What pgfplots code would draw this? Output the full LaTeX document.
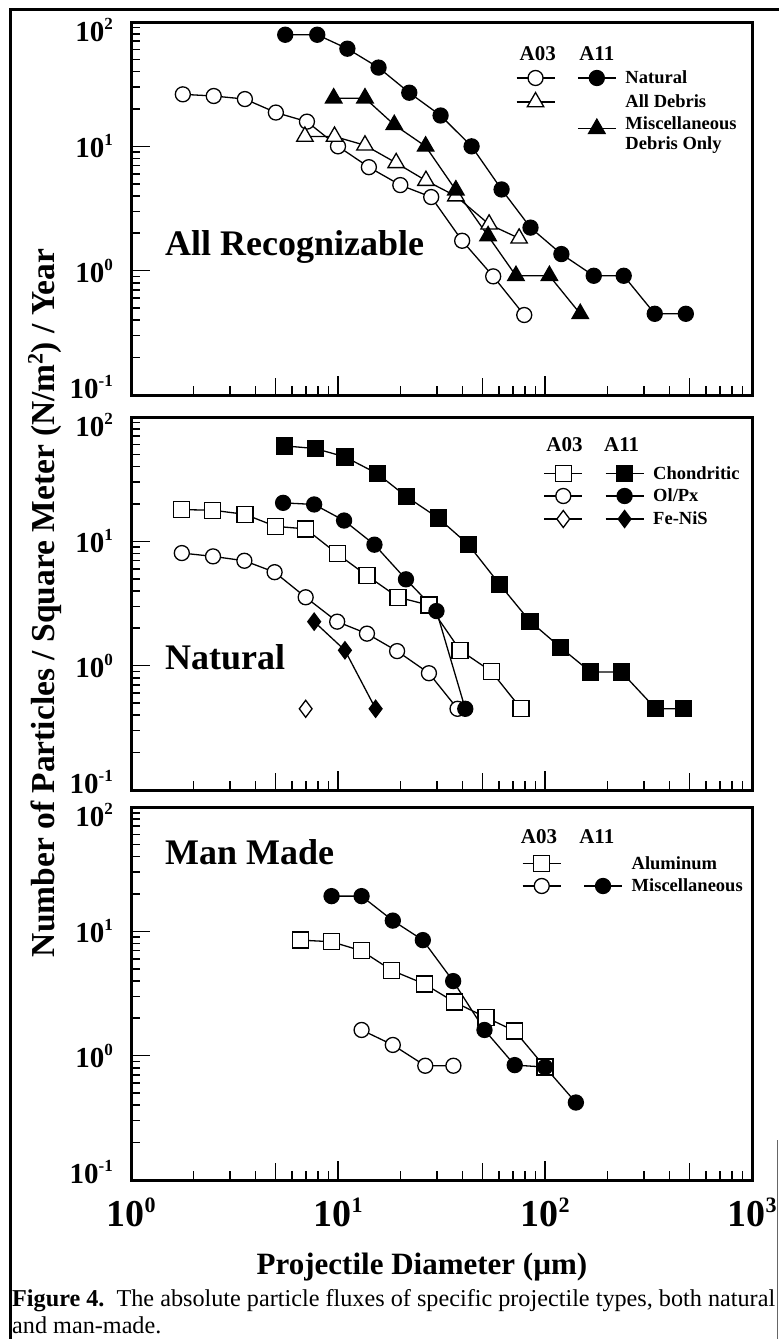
\documentclass[border=0pt]{standalone}
\usepackage{pgfplots}
\pgfplotsset{compat=1.18}
\usepackage{fontspec}
\setmainfont{Liberation Serif}
\newcommand\fs[1]{\fontsize{#1}{#1}\selectfont}
\newcommand\tpy[1]{10\raisebox{12pt}{\fs{17}#1}}
\newcommand\tpx[1]{10\raisebox{14pt}{\fs{22}#1}}
\tikzset{
  mkoc/.style={black, line width=1.3pt, mark=*, mark size=7.5pt, mark options={solid, fill=white, line width=1.3pt}},
  mkfc/.style={black, line width=1.3pt, mark=*, mark size=7.5pt, mark options={solid, fill=black, line width=1.3pt}},
  mkosq/.style={black, line width=1.3pt, mark=square*, mark size=8pt, mark options={solid, fill=white, line width=1.3pt}},
  mkfsq/.style={black, line width=1.3pt, mark=square*, mark size=8pt, mark options={solid, fill=black, line width=1.3pt}},
  mkotri/.style={black, line width=1.3pt, mark=triangle*, mark size=9.5pt, mark options={solid, fill=white, line width=1.3pt}},
  mkftri/.style={black, line width=1.3pt, mark=triangle*, mark size=9.5pt, mark options={solid, fill=black, line width=1.3pt}},
  mkodia/.style={black, line width=1.3pt, mark=diamond*, mark size=8.5pt, mark options={solid, fill=white, line width=1.3pt}},
  mkfdia/.style={black, line width=1.3pt, mark=diamond*, mark size=8.5pt, mark options={solid, fill=black, line width=1.3pt}},
}
\begin{document}
\begin{tikzpicture}
\path[use as bounding box] (0pt,0pt) rectangle (779pt,-1339pt);
\draw[line width=3pt] (10pt,-1339pt) -- (10pt,-9pt) -- (779pt,-9pt);
\draw[line width=0.8pt, black!60] (777pt,-1140pt) -- (777pt,-1339pt);

% ---------------- top panel
\begin{axis}[at={(131pt,-22pt)}, anchor=north west,
    xmode=log, ymode=log, xmin=1, xmax=1000, ymin=0.1, ymax=100,
    scale only axis, width=621pt, height=373pt,
    axis line style={line width=3pt},
    xtick={1,10,100,1000}, ytick={0.1,1,10,100},
    yticklabels={\raisebox{8pt}[\height][\depth]{\tpy{-1}},\tpy{0},\tpy{1},\raisebox{-8pt}[\height][\depth]{\tpy{2}}},
    xticklabels={},
    extra x ticks={5,50,500}, extra x tick labels={},
    extra x tick style={major tick length=17pt},
    tick align=inside, tick pos=left,
    major tick length=19pt, minor tick length=9pt,
    tick style={line width=1.6pt, black},
    yticklabel style={font=\fs{29}\bfseries, inner sep=0pt, xshift=-18pt},
    clip=false,
    legend columns=2, legend cell align=left,
    legend image code/.code={\draw[mark repeat=2, mark phase=2, #1] plot coordinates {(0pt,0pt) (19pt,0pt) (38pt,0pt)};},
    legend style={at={(axis description cs:0.975,0.87)}, draw=none, fill=none, anchor=north east, inner sep=0pt, outer sep=0pt,
      nodes={inner sep=0pt, font=\fs{18.5}\bfseries}, row sep=7pt,
      /tikz/column 2/.style={column sep=21pt}, /tikz/column 3/.style={column sep=9pt}},
  ]
\addplot[mkoc, forget plot] coordinates {(1.78,26.2)(2.51,25.4)(3.55,24.0)(5.01,18.7)(7.08,15.8)(10.0,10.0)(14.1,6.8)(20.0,4.88)(28.2,3.91)(39.8,1.74)(56.2,0.90)(79.4,0.44)};
\addplot[mkotri, forget plot] coordinates {(6.92,12.0)(9.62,12.0)(13.5,10.2)(19.1,7.36)(26.6,5.3)(37.1,3.98)(53.7,2.36)(75.0,1.82)};
\addplot[mkftri, forget plot] coordinates {(9.53,24.4)(13.5,24.4)(18.7,14.9)(26.5,10.0)(37.1,4.44)(53.1,1.9)(72.4,0.91)(105,0.91)(148,0.45)};
\addplot[mkfc, forget plot] coordinates {(5.56,79)(7.94,79)(11.1,61)(15.7,43)(22.1,27)(31.3,17.7)(44.2,10)(61.7,4.5)(85.1,2.22)(120,1.36)(172,0.91)(240,0.91)(339,0.45)(479,0.45)};
\addlegendimage{mkoc}\addlegendentry{}
\addlegendimage{mkfc}\addlegendentry{Natural}
\addlegendimage{mkotri}\addlegendentry{}
\addlegendimage{empty legend}\addlegendentry{All Debris}
\addlegendimage{empty legend}\addlegendentry{}
\addlegendimage{mkftri}\addlegendentry{\begin{tabular}{@{}l@{}}Miscellaneous\\[1.5pt]Debris Only\end{tabular}}
\node[font=\fs{21}\bfseries, inner sep=0pt] at (rel axis cs:0.655,0.915) {A03};
\node[font=\fs{21}\bfseries, inner sep=0pt] at (rel axis cs:0.750,0.915) {A11};
\node[anchor=west, font=\fs{36}\bfseries, inner sep=0pt] at (axis cs:1.46,1.55) {All Recognizable};
\end{axis}

% ---------------- middle panel
\begin{axis}[at={(131pt,-417pt)}, anchor=north west,
    xmode=log, ymode=log, xmin=1, xmax=1000, ymin=0.1, ymax=100,
    scale only axis, width=621pt, height=373pt,
    axis line style={line width=3pt},
    xtick={1,10,100,1000}, ytick={0.1,1,10,100},
    yticklabels={\raisebox{8pt}[\height][\depth]{\tpy{-1}},\tpy{0},\tpy{1},\raisebox{-8pt}[\height][\depth]{\tpy{2}}},
    xticklabels={},
    extra x ticks={5,50,500}, extra x tick labels={},
    extra x tick style={major tick length=17pt},
    tick align=inside, tick pos=left,
    major tick length=19pt, minor tick length=9pt,
    tick style={line width=1.6pt, black},
    yticklabel style={font=\fs{29}\bfseries, inner sep=0pt, xshift=-18pt},
    clip=false,
    legend columns=2, legend cell align=left,
    legend image code/.code={\draw[mark repeat=2, mark phase=2, #1] plot coordinates {(0pt,0pt) (19pt,0pt) (38pt,0pt)};},
    legend style={at={(axis description cs:0.98,0.87)}, draw=none, fill=none, anchor=north east, inner sep=0pt, outer sep=0pt,
      nodes={inner sep=0pt, font=\fs{18.5}\bfseries}, row sep=7pt,
      /tikz/column 2/.style={column sep=21pt}, /tikz/column 3/.style={column sep=9pt}},
  ]
\addplot[mkosq, forget plot] coordinates {(1.76,18.0)(2.48,17.8)(3.55,16.5)(4.99,13.2)(6.98,12.6)(9.91,7.95)(13.8,5.3)(19.5,3.55)(27.5,3.07)(38.9,1.33)(55.0,0.90)(76.7,0.45)};
\addplot[mkoc, forget plot] coordinates {(1.76,8.05)(2.49,7.57)(3.53,6.98)(4.94,5.65)(6.98,3.55)(9.91,2.26)(13.8,1.81)(19.3,1.31)(27.5,0.87)(37.8,0.45)};
\addplot[mkodia, forget plot] coordinates {(6.98,0.45)};
\addplot[mkfsq, forget plot] coordinates {(5.50,58.6)(7.76,55.8)(10.8,47.8)(15.5,35)(21.5,22.8)(30.5,15.4)(42.7,9.4)(60.3,4.52)(84.5,2.28)(119,1.40)(166,0.89)(234,0.89)(343,0.45)(465,0.45)};
\addplot[mkfc, forget plot] coordinates {(5.43,20.4)(7.67,19.8)(10.7,14.7)(15.0,9.4)(21.3,4.95)(29.9,2.75)(41.2,0.45)};
\addplot[mkfdia, forget plot] coordinates {(7.67,2.26)(10.8,1.33)(15.2,0.45)};
\addlegendimage{mkosq}\addlegendentry{}
\addlegendimage{mkfsq}\addlegendentry{Chondritic}
\addlegendimage{mkoc}\addlegendentry{}
\addlegendimage{mkfc}\addlegendentry{Ol/Px}
\addlegendimage{mkodia}\addlegendentry{}
\addlegendimage{mkfdia}\addlegendentry{Fe-NiS}
\node[font=\fs{21}\bfseries, inner sep=0pt] at (rel axis cs:0.698,0.925) {A03};
\node[font=\fs{21}\bfseries, inner sep=0pt] at (rel axis cs:0.790,0.925) {A11};
\node[anchor=west, font=\fs{36}\bfseries, inner sep=0pt] at (axis cs:1.46,1.17) {Natural};
\end{axis}

% ---------------- bottom panel
\begin{axis}[at={(131pt,-807pt)}, anchor=north west,
    xmode=log, ymode=log, xmin=1, xmax=1000, ymin=0.1, ymax=100,
    scale only axis, width=621pt, height=373pt,
    axis line style={line width=3pt},
    xtick={1,10,100,1000}, ytick={0.1,1,10,100},
    yticklabels={\raisebox{8pt}[\height][\depth]{\tpy{-1}},\tpy{0},\tpy{1},\raisebox{-8pt}[\height][\depth]{\tpy{2}}},
    xticklabels={\tpx{0},\tpx{1},\tpx{2},\tpx{3}},
    extra x ticks={5,50,500}, extra x tick labels={},
    extra x tick style={major tick length=17pt},
    tick align=inside, tick pos=left,
    major tick length=19pt, minor tick length=9pt,
    tick style={line width=1.6pt, black},
    yticklabel style={font=\fs{29}\bfseries, inner sep=0pt, xshift=-18pt},
    xticklabel style={font=\fs{38}\bfseries, inner sep=0pt, anchor=north, yshift=-18pt},
    clip=false,
    legend columns=2, legend cell align=left,
    legend image code/.code={\draw[mark repeat=2, mark phase=2, #1] plot coordinates {(0pt,0pt) (19pt,0pt) (38pt,0pt)};},
    legend style={at={(axis description cs:0.985,0.87)}, draw=none, fill=none, anchor=north east, inner sep=0pt, outer sep=0pt,
      nodes={inner sep=0pt, font=\fs{18.5}\bfseries}, row sep=7pt,
      /tikz/column 2/.style={column sep=21pt}, /tikz/column 3/.style={column sep=9pt}},
  ]
\addplot[mkosq, forget plot] coordinates {(6.59,8.5)(9.31,8.25)(13.0,6.97)(18.2,4.85)(26.1,3.78)(36.5,2.7)(51.9,2.03)(71.4,1.58)(100,0.81)};
\addplot[mkoc, forget plot] coordinates {(13.0,1.61)(18.4,1.22)(26.4,0.83)(36.1,0.83)};
\addplot[mkfc, forget plot] coordinates {(9.31,19.2)(13.0,19.2)(18.4,12.2)(25.7,8.5)(36.0,3.98)(51.0,1.61)(71.4,0.84)(100,0.81)(141,0.42)};
\addlegendimage{mkosq}\addlegendentry{}
\addlegendimage{empty legend}\addlegendentry{Aluminum}
\addlegendimage{mkoc}\addlegendentry{}
\addlegendimage{mkfc}\addlegendentry{Miscellaneous}
\node[font=\fs{21}\bfseries, inner sep=0pt] at (rel axis cs:0.657,0.92) {A03};
\node[font=\fs{21}\bfseries, inner sep=0pt] at (rel axis cs:0.750,0.92) {A11};
\node[anchor=west, font=\fs{36}\bfseries, inner sep=0pt] at (axis cs:1.46,43.5) {Man Made};
\end{axis}

\node[rotate=90, font=\fs{33.5}\bfseries] at (45pt,-603pt) {Number of Particles / Square Meter (N/m\raisebox{12pt}{\fs{22}2}) / Year};
\node[font=\fs{31}\bfseries] at (422pt,-1267pt) {Projectile Diameter (µm)};
\node[anchor=base west, font=\fs{24.2}, inner sep=0pt] at (12pt,-1306pt) {\textbf{Figure 4.}\ \ The absolute particle fluxes of specific projectile types, both natural};
\node[anchor=base west, font=\fs{24.2}, inner sep=0pt] at (12pt,-1333pt) {and man-made.};
\end{tikzpicture}
\end{document}
